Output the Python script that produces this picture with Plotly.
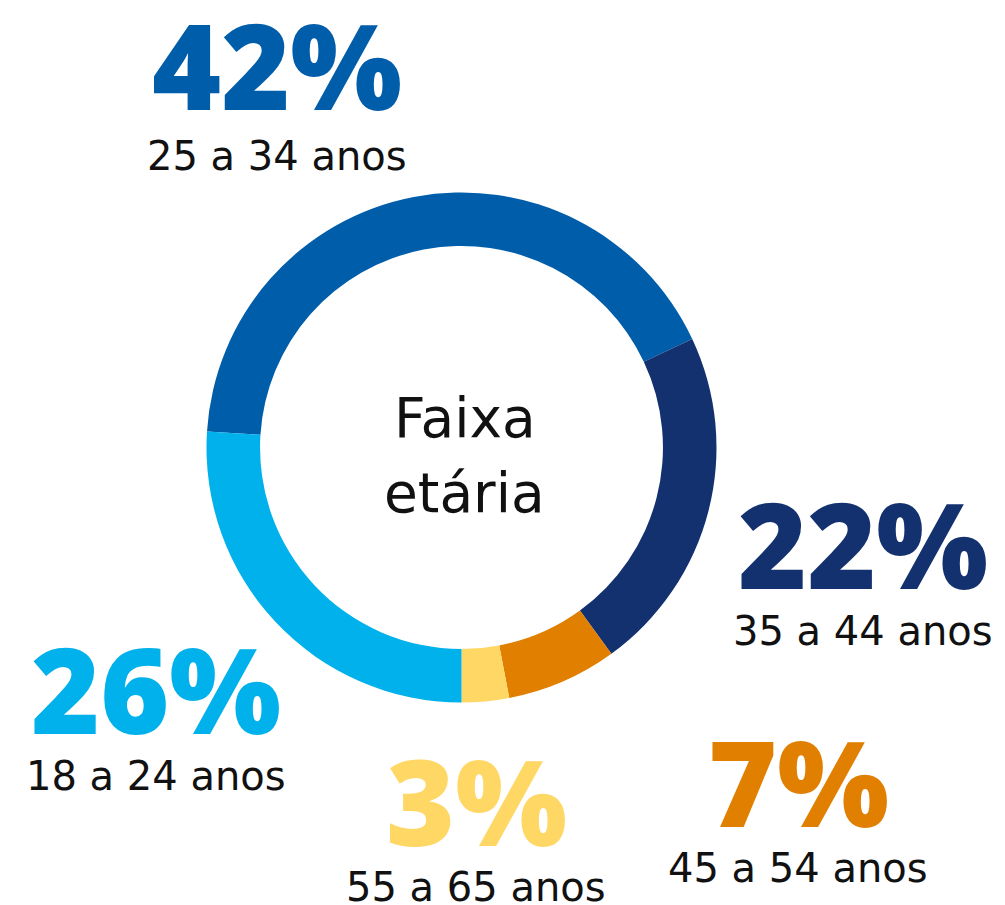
import plotly.graph_objects as go

# ---- data ----
categories = ["25 a 34 anos", "35 a 44 anos", "45 a 54 anos", "55 a 65 anos", "18 a 24 anos"]
values = [42, 22, 7, 3, 26]
colors = ["#005DAA", "#14316F", "#E07F00", "#FFD764", "#00B1EB"]
center_title_lines = ["Faixa", "etária"]

# ---- layout (pixel positions of the outside labels) ----
W, H = 1005, 905
cx, cy, R = 461.5, 447.5, 255.0
# (center x, visual center y of percentage, visual center y of label) in pixels
label_pos = [
    (277, 70, 156),
    (863, 549, 631),
    (798, 787, 868),
    (476, 806, 887),
    (156, 694, 776),
]
title_pos = [(465, 417.5), (464, 492.5)]
PCT_DY = -6   # correction: box center vs visual glyph center
LAB_DY = 0

fig = go.Figure()
fig.add_trace(go.Pie(
    labels=categories,
    values=values,
    marker=dict(colors=colors, line=dict(width=0)),
    hole=0.79,
    sort=False,
    direction="clockwise",
    rotation=-86.4,
    textinfo="none",
    hoverinfo="label+percent",
    showlegend=False,
    domain=dict(x=[(cx - R) / W, (cx + R) / W], y=[(H - cy - R) / H, (H - cy + R) / H]),
))

annotations = []
for cat, val, col, (px, py_pct, py_lab) in zip(categories, values, colors, label_pos):
    annotations.append(dict(
        text=f"{val}%", x=px / W, y=1 - (py_pct + PCT_DY) / H, xref="paper", yref="paper",
        xanchor="center", yanchor="middle", showarrow=False,
        font=dict(family="Open Sans", size=118, color=col, weight=800),
    ))
    annotations.append(dict(
        text=cat, x=px / W, y=1 - (py_lab + LAB_DY) / H, xref="paper", yref="paper",
        xanchor="center", yanchor="middle", showarrow=False,
        font=dict(family="DejaVu Sans", size=40, color="#111111"),
    ))
for line, (px, py) in zip(center_title_lines, title_pos):
    annotations.append(dict(
        text=line, x=px / W, y=1 - py / H, xref="paper", yref="paper",
        xanchor="center", yanchor="middle", showarrow=False,
        font=dict(family="DejaVu Sans", size=55, color="#111111"),
    ))

fig.update_layout(
    width=W, height=H,
    margin=dict(l=0, r=0, t=0, b=0),
    paper_bgcolor="white", plot_bgcolor="white",
    annotations=annotations,
)
fig.write_html("out.html", config={"displayModeBar": False},
               post_script="document.body.style.margin='0';")
